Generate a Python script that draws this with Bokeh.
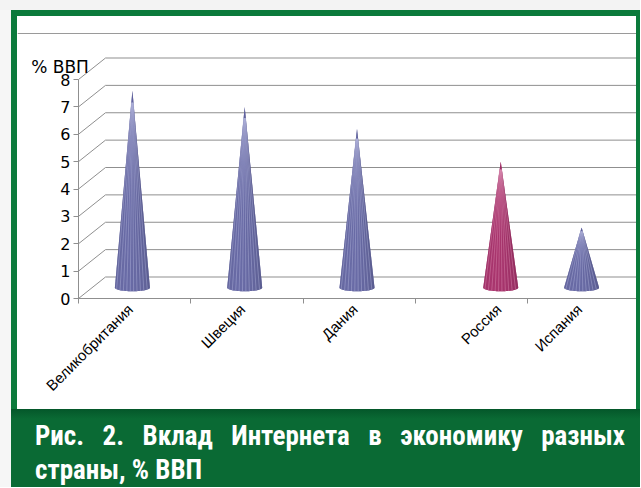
import math
import numpy as np
from bokeh.plotting import figure
from bokeh.models import Range1d, FixedTicker, Label, Div
from bokeh.layouts import column, row
from bokeh.embed import file_html
from bokeh.resources import INLINE

# ---------------- data ----------------
categories = ["Великобритания", "Швеция", "Дания", "Россия", "Испания"]
values = [7.2, 6.6, 5.8, 4.6, 2.2]
y_ticks = [0, 1, 2, 3, 4, 5, 6, 7, 8]
y_title = "% ВВП"
highlight = "Россия"
caption_line1 = "Рис. 2. Вклад Интернета в экономику разных"
caption_line2 = "страны, % ВВП"

# ---------------- layout / style ----------------
PX_X = 112.3            # pixels per category slot
PX_Y = 27.375           # pixels per value unit
FIG_W, FIG_H = 619, 393
LEFT_PX = 61            # white space left of the value axis
TOP_PX = 282            # distance from top of white area to the category axis
X_MIN = -LEFT_PX / PX_X
X_MAX = (FIG_W - LEFT_PX) / PX_X
Y_MAX = TOP_PX / PX_Y
Y_MIN = -(FIG_H - TOP_PX) / PX_Y
TOP_RULE = (TOP_PX - 17) / PX_Y
DX = 27.0 / PX_X        # 3-D depth offset (x)
DY = 21.5 / PX_Y        # 3-D depth offset (y)
DXM, DYM = DX / 2, DY / 2
HW = 17.5 / PX_X        # cone base half width
B = 3.5 / PX_Y          # cone base ellipse half height
CENTER = 0.48
slot_shift = {"Россия": 0.28}

GRID = "#8f8f8f"
BLUE = "#65679f"
BLUE_STRIPE = "#b9bbe0"
PINK = "#a2346a"
PINK_STRIPE = "#e096ba"
GREEN = "#0b7a3b"
GREEN_DARK = "#0a6a34"


def shade(hex_color, k):
    r, g, b = (int(hex_color[i:i + 2], 16) for i in (1, 3, 5))
    return "#%02x%02x%02x" % tuple(max(0, min(255, int(round(c * k)))) for c in (r, g, b))


p = figure(width=FIG_W, height=FIG_H, output_backend="svg", toolbar_location=None,
           x_range=Range1d(X_MIN, X_MAX), y_range=Range1d(Y_MIN, Y_MAX),
           min_border=0, margin=0,
           background_fill_color="white", border_fill_color="white",
           outline_line_color=None)
p.grid.visible = False

# top rule of the chart area
p.segment(x0=[X_MIN], y0=[TOP_RULE], x1=[X_MAX], y1=[TOP_RULE], line_color="#9a9a9a", line_width=1)

# back wall gridlines and side diagonals
bx0 = [DX] * len(y_ticks)
bx1 = [X_MAX] * len(y_ticks)
by = [v + DY for v in y_ticks]
p.segment(x0=bx0, y0=by, x1=bx1, y1=by, line_color=GRID, line_width=1)
p.segment(x0=[0] * len(y_ticks), y0=y_ticks, x1=bx0, y1=by, line_color=GRID, line_width=1)

# cones
N = 40
ox, oy, oc = [], [], []
fx, fy, fc = [], [], []
sx0, sy0, sx1, sy1, sc = [], [], [], [], []
centers = []
thetas = np.linspace(np.pi, 2 * np.pi, N + 1)
for i, (cat, val) in enumerate(zip(categories, values)):
    cx = i + CENTER + slot_shift.get(cat, 0.0)
    centers.append(cx)
    base = PINK if cat == highlight else BLUE
    stripe = PINK_STRIPE if cat == highlight else BLUE_STRIPE
    ay = val + DYM
    ox.append([cx] + [cx + HW * math.cos(t) for t in thetas])
    oy.append([ay] + [DYM + B * math.sin(t) for t in thetas])
    oc.append(base)
    for k in range(N):
        t0, t1 = thetas[k], thetas[k + 1]
        fx.append([cx, cx + HW * math.cos(t0), cx + HW * math.cos(t1)])
        fy.append([ay, DYM + B * math.sin(t0), DYM + B * math.sin(t1)])
        phi = (t0 + t1) / 2 - 1.5 * math.pi
        inten = 0.9 + 0.15 * math.cos(phi + 0.35)
        fc.append(shade(base, inten))
    s = 3.4 / PX_X
    offs = np.arange(-HW + s / 2, HW, s)
    for o in offs:
        by0 = DYM - B * math.sqrt(max(0.0, 1 - (o / HW) ** 2))
        sx0.append(cx + o)
        sy0.append(by0)
        sx1.append(cx + o * 0.06)
        sy1.append(by0 + (ay - by0) * 0.94)
        sc.append(stripe)

p.patches(xs=ox, ys=oy, fill_color=oc, line_color=None)
p.patches(xs=fx, ys=fy, fill_color=fc, line_color=None)
p.segment(x0=sx0, y0=sy0, x1=sx1, y1=sy1, line_color=sc, line_width=0.8, line_alpha=0.5)

# value axis (drawn at x = 0 inside the frame)
yax = p.yaxis[0]
yax.fixed_location = 0
yax.ticker = FixedTicker(ticks=y_ticks)
yax.bounds = (0, 8)
yax.axis_line_color = GRID
yax.major_tick_line_color = GRID
yax.major_tick_out = 5
yax.major_tick_in = 0
yax.minor_tick_line_color = None
yax.major_label_text_font = "DejaVu Sans"
yax.major_label_text_font_size = "16px"
yax.major_label_text_color = "#000000"
yax.major_label_standoff = 3

# category axis (drawn at value 0 inside the frame)
xax = p.xaxis[0]
xax.fixed_location = 0
label_pos = [c - 0.02 for c in centers]
xax.ticker = FixedTicker(ticks=label_pos, minor_ticks=list(range(len(categories))))
xax.bounds = (0, X_MAX)
xax.major_label_overrides = {lp: cat for lp, cat in zip(label_pos, categories)}
xax.major_tick_in = 0
xax.major_tick_out = 0
xax.minor_tick_in = 0
xax.minor_tick_out = 5
xax.minor_tick_line_color = GRID
xax.axis_line_color = GRID
xax.major_label_orientation = math.pi / 4
xax.major_label_text_font = "Liberation Sans"
xax.major_label_text_font_size = "15px"
xax.major_label_text_color = "#000000"
xax.major_label_standoff = 3

p.add_layout(Label(x=-0.421, y=(TOP_PX - 50) / PX_Y, text=y_title,
                   text_font="DejaVu Sans", text_font_size="17px", text_color="#000000",
                   text_align="left", text_baseline="alphabetic"))

cap_html = (
    '<div style="width:590px;padding:10px 15px 0 24px;color:white;font-weight:bold;'
    'font-family:\'Liberation Sans Narrow\',\'Roboto Condensed\',\'DejaVu Sans Condensed\',\'Liberation Sans\',sans-serif;'
    'font-stretch:condensed;font-size:27px;line-height:34px;">'
    '<div style="width:590px;text-align:justify;text-align-last:justify;">' + caption_line1 + '</div>'
    '<div>' + caption_line2 + '</div></div>'
)
caption = Div(text=cap_html, width=629, height=78, margin=0,
              styles={"background": "linear-gradient(#04572a 0px, " + GREEN_DARK + " 10px)"})


def box(w, h, color):
    return Div(text="", width=w, height=h, margin=0, styles={"background-color": color})


green_block = column(
    box(629, 6, GREEN),
    row(box(6, FIG_H, GREEN), p, box(4, FIG_H, GREEN), spacing=0, margin=0),
    caption,
    spacing=0, margin=0,
)
root = column(
    box(640, 10, "#f3f3f3"),
    row(box(11, 477, "#f6f6f6"), green_block, spacing=0, margin=0),
    spacing=0, margin=0,
)

open("out.html", "w").write(file_html(root, INLINE))
